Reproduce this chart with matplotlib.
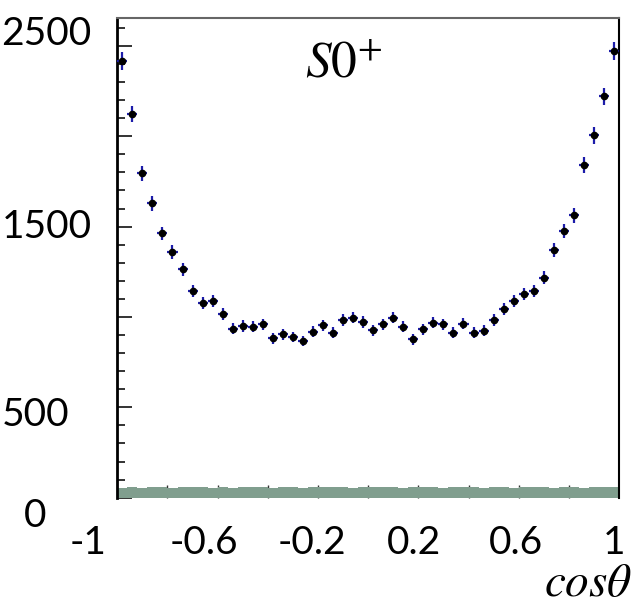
import numpy as np
import matplotlib.pyplot as plt

# ---- data (50 bins in cos(theta)) ----
bin_edges = np.linspace(-1, 1, 51)
counts = [2415, 2122, 1794, 1628, 1462, 1359, 1263, 1145, 1079, 1086,
          1016, 935, 950, 946, 959, 882, 904, 889, 867, 917,
          953, 913, 983, 996, 972, 926, 959, 996, 946, 876,
          931, 968, 959, 913, 962, 913, 924, 983, 1045, 1086,
          1128, 1143, 1217, 1370, 1477, 1562, 1842, 2004, 2222, 2472]
background = [56, 57, 56, 58, 57, 56, 57, 58, 57, 56,
              57, 56, 58, 57, 57, 56, 57, 58, 56, 57,
              57, 58, 57, 56, 57, 57, 58, 57, 56, 57,
              58, 57, 56, 57, 57, 58, 56, 57, 57, 56,
              57, 58, 57, 56, 57, 57, 56, 58, 57, 57]

y_labels = ["2500", "1500", "500", "0"]
y_label_vals = [2500, 1500, 500, 0]
x_labels = ["-1", "-0.6", "-0.2", "0.2", "0.6", "1"]
x_label_vals = [-1, -0.6, -0.2, 0.2, 0.6, 1]

counts = np.array(counts, dtype=float)
centers = 0.5 * (bin_edges[:-1] + bin_edges[1:])
half_w = 0.5 * np.diff(bin_edges)

plt.rcParams['mathtext.fontset'] = 'stix'

fig = plt.figure(figsize=(6.41, 6.06), dpi=100)
ax = fig.add_axes([0.183, 0.1787, 0.7827, 0.791])

ax.stairs(background, bin_edges, fill=True, color='#809e8e', lw=0, zorder=1)
ax.errorbar(centers, counts, yerr=np.sqrt(counts), xerr=half_w, fmt='o',
            color='black', ms=4.5, ecolor='#1c1caa', elinewidth=1.6,
            capsize=0, zorder=3)

ax.set_xlim(-1, 1)
ax.set_ylim(0, 2652)
ax.set_axisbelow(True)

# ROOT style ticks, inside
ax.set_yticks(np.arange(0, 2651, 500))
ax.set_yticks(np.arange(0, 2651, 100), minor=True)
ax.set_xticks(np.arange(-0.8, 0.81, 0.2))
ax.tick_params(axis='y', which='major', direction='in', length=11, width=1.4,
               color='#333333', labelleft=False)
ax.tick_params(axis='y', which='minor', direction='in', length=6, width=1.4,
               color='#333333')
ax.tick_params(axis='x', which='major', direction='in', length=9.5, width=1,
               color='#333333', labelbottom=False)

ax.spines['bottom'].set_visible(False)
ax.spines['top'].set_color('#666666')
ax.spines['top'].set_linewidth(1.5)
ax.spines['left'].set_linewidth(2)
ax.spines['right'].set_linewidth(1.5)

# overlaid labels (as on the slide)
lab_font = dict(family='Lato', size=28, color='black')
y_offsets = [(-116, 12), (-116, 0), (-116, -8), (-93, -18)]
for txt, v, off in zip(y_labels, y_label_vals, y_offsets):
    ax.annotate(txt, xy=(0, v), xycoords=('axes fraction', 'data'),
                xytext=off, textcoords='offset pixels',
                ha='left', va='center', **lab_font)

x_offsets = [-29, -14, -6, -4, -3, -5]
for txt, v, dx in zip(x_labels, x_label_vals, x_offsets):
    ax.annotate(txt, xy=(v, 0), xycoords=('data', 'axes fraction'),
                xytext=(dx, -45), textcoords='offset pixels',
                ha='center', va='center', **lab_font)

fig.text(588 / 641, 1 - 596 / 606, r'$cos\theta$', ha='center',
         va='baseline', fontsize=34)
fig.text(305 / 641, 1 - 77 / 606, r'$S0^{+}$', ha='left', va='baseline',
         fontsize=37)

fig.savefig('out.png', dpi=100)
